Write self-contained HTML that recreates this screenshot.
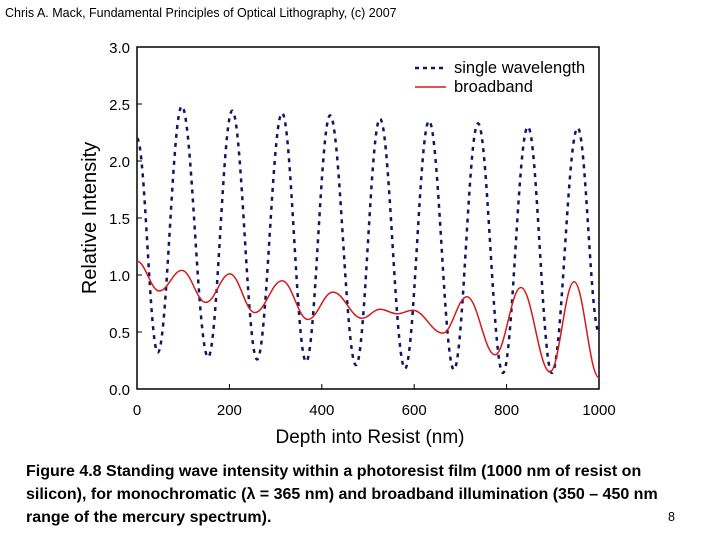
<!DOCTYPE html>
<html><head><meta charset="utf-8"><style>
body{margin:0;background:#fff;}
svg{display:block;font-family:"Liberation Sans",Arial,sans-serif;}
</style></head><body>
<svg id="chart" width="720" height="540" viewBox="0 0 720 540">
<text x="5" y="17" font-size="12.5" fill="#000">Chris A. Mack, Fundamental Principles of Optical Lithography, (c) 2007</text>
<rect x="137" y="47" width="462" height="342" fill="none" stroke="#000" stroke-width="1.5"/>
<g id="yticks"></g><g id="xticks"></g>
<text x="0" y="0" transform="translate(96,218) rotate(-90)" text-anchor="middle" font-size="20">Relative Intensity</text>
<text x="370" y="443" text-anchor="middle" font-size="19">Depth into Resist (nm)</text>
<path id="single" fill="none" stroke="#141464" stroke-width="2.5" stroke-dasharray="4 5"/>
<path id="broad" fill="none" stroke="#d41a1a" stroke-width="1.5"/>
<g>
<line x1="415" y1="68" x2="446" y2="68" stroke="#141464" stroke-width="2.5" stroke-dasharray="4 4"/>
<text x="454" y="73" font-size="16.5">single wavelength</text>
<line x1="415" y1="87" x2="446" y2="87" stroke="#d41a1a" stroke-width="1.5"/>
<text x="454" y="92" font-size="16.5">broadband</text>
</g>
<g font-size="16" font-weight="bold">
<text x="26" y="476">Figure 4.8  Standing wave intensity within a photoresist film (1000 nm of resist on</text>
<text x="26" y="499">silicon), for monochromatic (λ = 365 nm) and broadband illumination (350 – 450 nm</text>
<text x="26" y="522">range of the mercury spectrum).</text>
</g>
<text x="668" y="521" font-size="12.5">8</text>
</svg>
<script>
const xTicks=[0,200,400,600,800,1000];
const yTicks=[0.0,0.5,1.0,1.5,2.0,2.5,3.0];
const singleDepth=[0,45,97,154,206,260,314,366,418,474,526,580,632,686,738,792,846,898,954,1000];
const singleVal=[2.2,0.32,2.48,0.28,2.44,0.26,2.42,0.24,2.40,0.21,2.37,0.18,2.35,0.17,2.33,0.14,2.30,0.14,2.29,0.5];
const broadDepth=[0,48,97,149,201,255,314,370,424,487,526,563,597,662,714,775,831,894,946,1000];
const broadVal=[1.12,0.86,1.04,0.76,1.01,0.67,0.95,0.61,0.85,0.62,0.70,0.66,0.69,0.49,0.81,0.30,0.89,0.15,0.94,0.10];
const NS='http://www.w3.org/2000/svg';
const X=d=>137+d*0.462, Y=v=>389-v*114;
const yt=document.getElementById('yticks'), xt=document.getElementById('xticks');
yTicks.forEach(v=>{
 const t=document.createElementNS(NS,'text');
 t.setAttribute('x',130);t.setAttribute('y',Y(v)+6);t.setAttribute('text-anchor','end');t.setAttribute('font-size','15');
 t.textContent=v.toFixed(1);
 
 
 yt.appendChild(t);
 const l=document.createElementNS(NS,'line');
 l.setAttribute('x1',137);l.setAttribute('x2',142);l.setAttribute('y1',Y(v));l.setAttribute('y2',Y(v));l.setAttribute('stroke','#000');
 
 
 yt.appendChild(l);
});
xTicks.forEach(d=>{
 const t=document.createElementNS(NS,'text');
 t.setAttribute('x',X(d));t.setAttribute('y',415);t.setAttribute('text-anchor','middle');t.setAttribute('font-size','15');
 t.textContent=d;
 
 
 xt.appendChild(t);
 const l=document.createElementNS(NS,'line');
 l.setAttribute('x1',X(d));l.setAttribute('x2',X(d));l.setAttribute('y1',389);l.setAttribute('y2',384);l.setAttribute('stroke','#000');
 
 
 xt.appendChild(l);
});
function smooth(ds,vs){
 let p='M'+X(ds[0]).toFixed(1)+','+Y(vs[0]).toFixed(1);
 for(let i=1;i<ds.length;i++){
  const x0=X(ds[i-1]),y0=Y(vs[i-1]),x1=X(ds[i]),y1=Y(vs[i]),dx=(x1-x0)*0.38;
  p+=' C'+(x0+dx).toFixed(1)+','+y0.toFixed(1)+' '+(x1-dx).toFixed(1)+','+y1.toFixed(1)+' '+x1.toFixed(1)+','+y1.toFixed(1);
 }
 return p;
}
document.getElementById('single').setAttribute('d',smooth(singleDepth,singleVal));
document.getElementById('broad').setAttribute('d',smooth(broadDepth,broadVal));
</script>
</body></html>
